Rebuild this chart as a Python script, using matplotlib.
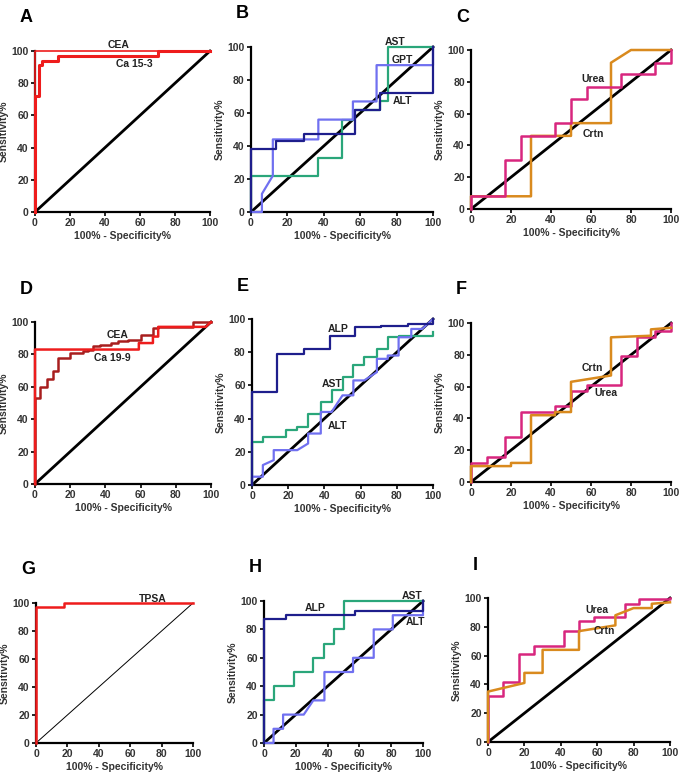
import matplotlib
matplotlib.use("Agg")
import matplotlib.pyplot as plt

plt.rcParams['font.family'] = ['Liberation Sans', 'DejaVu Sans']
plt.rcParams['font.weight'] = 'bold'

# ROC curves (x = 100% - specificity, y = sensitivity)
a_cea_x = [0, 0, 100]
a_cea_y = [0, 100, 100]
a_ca153_x = [0, 0, 2, 2, 4, 4, 13, 13, 70, 70, 100]
a_ca153_y = [0, 72, 72, 91, 91, 94, 94, 97, 97, 100, 100]

b_ast_x = [0, 0, 37, 37, 50, 50, 56, 56, 71, 71, 75, 75, 100]
b_ast_y = [0, 22, 22, 33, 33, 56, 56, 62, 62, 67, 67, 100, 100]
b_gpt_x = [0, 6, 6, 12, 12, 37, 37, 56, 56, 69, 69, 100, 100]
b_gpt_y = [0, 0, 11, 22, 44, 44, 56, 56, 67, 67, 89, 89, 100]
b_alt_x = [0, 0, 14, 14, 29, 29, 57, 57, 71, 71, 100, 100]
b_alt_y = [0, 38, 38, 43, 43, 47, 47, 62, 62, 72, 72, 100]

c_urea_x = [0, 0, 17, 17, 25, 25, 42, 42, 50, 50, 58, 58, 75, 75, 92, 92, 100, 100]
c_urea_y = [0, 8, 8, 31, 31, 46, 46, 54, 54, 69, 69, 77, 77, 85, 85, 92, 92, 100]
c_crtn_x = [0, 0, 30, 30, 50, 50, 70, 70, 80, 100]
c_crtn_y = [0, 8, 8, 46, 46, 54, 54, 92, 100, 100]

d_cea_x = [0, 0, 3, 3, 7, 7, 10, 10, 13, 13, 20, 20, 27, 27, 30, 30, 33, 33, 37, 37,
           43, 43, 47, 47, 53, 53, 60, 60, 67, 67, 70, 70, 90, 90, 100]
d_cea_y = [0, 53, 53, 60, 60, 65, 65, 70, 70, 78, 78, 81, 81, 82, 82, 83, 83, 85, 85, 86,
           86, 87, 87, 88, 88, 89, 89, 92, 92, 96, 96, 97, 97, 100, 100]
d_ca199_x = [0, 0, 59, 59, 67, 67, 70, 70, 97, 100]
d_ca199_y = [0, 83, 83, 87, 87, 91, 91, 97, 97, 100]

e_alp_x = [0, 0, 14, 14, 29, 29, 43, 43, 57, 57, 71, 71, 86, 86, 100, 100]
e_alp_y = [0, 56, 56, 79, 79, 82, 82, 90, 90, 95, 95, 96, 96, 97, 97, 100]
e_ast_x = [0, 0, 6, 6, 19, 19, 25, 25, 31, 31, 38, 38, 44, 44, 50, 50, 56, 56,
           62, 62, 69, 69, 75, 75, 81, 81, 100, 100]
e_ast_y = [0, 26, 26, 29, 29, 33, 33, 35, 35, 43, 43, 50, 50, 57, 57, 65, 65, 72,
           72, 77, 77, 82, 82, 89, 89, 90, 90, 92]
e_alt_x = [0, 0, 6, 6, 12, 12, 25, 31, 31, 38, 38, 44, 50, 56, 56, 62, 69, 69,
           75, 75, 81, 81, 88, 88, 94, 100]
e_alt_y = [0, 5, 5, 12, 15, 21, 21, 25, 31, 31, 44, 44, 54, 54, 63, 63, 68, 76,
           76, 78, 78, 89, 89, 94, 94, 100]

f_urea_x = [0, 0, 8, 8, 17, 17, 25, 25, 42, 42, 50, 50, 58, 58, 75, 75, 83, 83, 92, 92, 100, 100]
f_urea_y = [0, 12, 12, 16, 16, 28, 28, 44, 44, 48, 48, 57, 57, 61, 61, 79, 79, 91, 91, 95, 95, 100]
f_crtn_x = [0, 0, 20, 20, 30, 30, 42, 42, 50, 50, 70, 70, 90, 90, 100]
f_crtn_y = [0, 10, 10, 12, 12, 42, 42, 44, 44, 63, 67, 91, 92, 96, 97]

g_tpsa_x = [0, 0, 18, 18, 100]
g_tpsa_y = [0, 97, 97, 100, 100]

h_alp_x = [0, 0, 14, 14, 57, 57, 100, 100]
h_alp_y = [0, 87, 87, 90, 90, 93, 93, 100]
h_ast_x = [0, 0, 6, 6, 19, 19, 31, 31, 38, 38, 44, 44, 50, 50, 100]
h_ast_y = [0, 30, 30, 40, 40, 50, 50, 60, 60, 70, 70, 80, 80, 100, 100]
h_alt_x = [0, 6, 6, 12, 12, 25, 31, 38, 38, 56, 56, 69, 69, 81, 81, 100, 100]
h_alt_y = [0, 0, 10, 10, 20, 20, 30, 30, 50, 50, 60, 60, 80, 80, 90, 90, 100]

i_urea_x = [0, 0, 8, 8, 17, 17, 25, 25, 42, 42, 50, 50, 58, 58, 75, 75, 83, 83, 100, 100]
i_urea_y = [0, 32, 32, 42, 42, 61, 61, 67, 67, 77, 77, 84, 84, 87, 87, 96, 96, 99, 99, 100]
i_crtn_x = [0, 0, 20, 20, 30, 30, 50, 50, 70, 70, 80, 90, 90, 100]
i_crtn_y = [0, 35, 41, 48, 48, 64, 64, 77, 81, 88, 93, 93, 96, 97]

RED = '#ee1c1c'
DARKRED = '#a81e1e'
NAVY = '#1e1e8c'
LIGHTBLUE = '#7070f0'
GREEN = '#2aa67a'
MAGENTA = '#d8267e'
ORANGE = '#d98a1e'

# panel letter, axes box in pixels (left, top, right, bottom), curves, labels
panels = [
    ('A', (35, 51, 210, 212),
     [(a_cea_x, a_cea_y, RED, 1.2), (a_ca153_x, a_ca153_y, RED, 2.2)],
     [('CEA', 48, 104), ('Ca 15-3', 57, 92)], 2.0),
    ('B', (251, 47, 433, 212),
     [(b_ast_x, b_ast_y, GREEN, 1.6), (b_gpt_x, b_gpt_y, LIGHTBLUE, 1.6),
      (b_alt_x, b_alt_y, NAVY, 1.6)],
     [('AST', 79, 103), ('GPT', 83, 92), ('ALT', 83.5, 67)], 2.0),
    ('C', (471, 50, 671, 209),
     [(c_crtn_x, c_crtn_y, ORANGE, 1.8), (c_urea_x, c_urea_y, MAGENTA, 1.8)],
     [('Urea', 61, 82), ('Crtn', 61, 47)], 2.0),
    ('D', (35, 322, 211, 484),
     [(d_cea_x, d_cea_y, DARKRED, 1.8), (d_ca199_x, d_ca199_y, RED, 1.8)],
     [('CEA', 47, 92), ('Ca 19-9', 44, 78)], 2.0),
    ('E', (252, 319, 433, 485),
     [(e_ast_x, e_ast_y, GREEN, 1.6), (e_alt_x, e_alt_y, LIGHTBLUE, 1.6),
      (e_alp_x, e_alp_y, NAVY, 1.6)],
     [('ALP', 47.5, 94), ('AST', 44, 61), ('ALT', 47.5, 35.5)], 2.0),
    ('F', (471, 323, 671, 482),
     [(f_urea_x, f_urea_y, MAGENTA, 1.8), (f_crtn_x, f_crtn_y, ORANGE, 1.8)],
     [('Crtn', 60.5, 72), ('Urea', 67.5, 56)], 2.0),
    ('G', (36, 603, 193, 743),
     [(g_tpsa_x, g_tpsa_y, RED, 1.8)],
     [('TPSA', 74.5, 103)], 0.7),
    ('H', (264, 601, 423, 743),
     [(h_ast_x, h_ast_y, GREEN, 1.6), (h_alt_x, h_alt_y, LIGHTBLUE, 1.6),
      (h_alp_x, h_alp_y, NAVY, 1.6)],
     [('ALP', 32, 95), ('AST', 93, 103.5), ('ALT', 95, 85)], 2.0),
    ('I', (488, 598, 670, 742),
     [(i_urea_x, i_urea_y, MAGENTA, 1.8), (i_crtn_x, i_crtn_y, ORANGE, 1.8)],
     [('Urea', 60, 92), ('Crtn', 64, 77)], 2.0),
]

W, H = 681, 773
fig = plt.figure(figsize=(W / 100, H / 100), dpi=100)

for letter, (l, t, r, b), curves, labels, diag_lw in panels:
    ax = fig.add_axes([l / W, 1 - b / H, (r - l) / W, (b - t) / H])
    ax.plot([0, 100], [0, 100], color='black', lw=diag_lw, clip_on=False, zorder=2)
    for x, y, c, lw in curves:
        ax.plot(x, y, color=c, lw=lw, clip_on=False, zorder=3)
    for txt, tx, ty in labels:
        ax.text(tx, ty, txt, fontsize=7.5, fontweight='bold', color='#222222',
                ha='center', va='center')
    ax.set_xlim(0, 100)
    ax.set_ylim(0, 100)
    ax.set_xticks(range(0, 101, 20))
    ax.set_yticks(range(0, 101, 20))
    ax.spines['top'].set_visible(False)
    ax.spines['right'].set_visible(False)
    for s in ('left', 'bottom'):
        ax.spines[s].set_linewidth(1.6)
    ax.tick_params(length=3, width=1.2, labelsize=7.5, pad=1.5, labelcolor='#333333')
    ax.set_xlabel('100% - Specificity%', fontsize=7.5, fontweight='bold',
                  color='#333333', labelpad=2)
    ax.set_ylabel('Sensitivity%', fontsize=7.5, fontweight='bold',
                  color='#333333', labelpad=2)
    fig.text((l - 15) / W, 1 - (t - 33) / H, letter, fontsize=13,
             fontweight='bold', ha='left', va='center')

fig.savefig('out.png', dpi=100)
